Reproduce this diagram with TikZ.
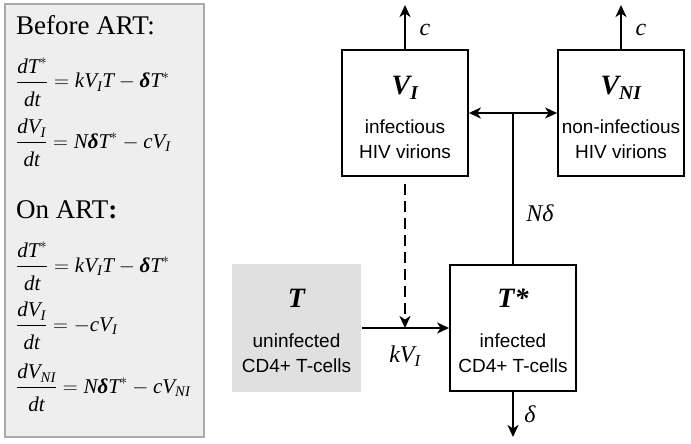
\documentclass[tikz,border=0pt]{standalone}
\usepackage{amsmath}
\usepackage{fontspec}
\setmainfont{Liberation Serif}
\newfontfamily\hv{Liberation Sans}
\usetikzlibrary{arrows.meta,calc}
\newcommand{\ti}[1]{\text{\itshape #1}}
\newcommand{\bd}{\text{\bfseries\itshape δ}}
\newcommand{\nst}{\rule[-6pt]{0pt}{6pt}}
\newcommand{\dst}{\rule{0pt}{21pt}}
\newcommand{\myfr}[2]{\dfrac{#1\nst}{#2\dst}}
\definecolor{panelfill}{HTML}{EEEEEE}
\definecolor{paneldraw}{HTML}{AAAAAA}
\definecolor{tfill}{HTML}{E0E0E0}
\begin{document}
\begin{tikzpicture}[x=1pt,y=-1pt,
 box/.style={draw,line width=1.8pt,minimum width=126pt,minimum height=126pt,inner sep=0},
 ttl/.style={anchor=base,inner sep=0,font=\fontsize{28}{30}\selectfont\bfseries\itshape},
 desc/.style={font=\hv\fontsize{19}{25}\selectfont,align=center,inner sep=0},
 lbl/.style={inner sep=0,font=\fontsize{24}{26}\selectfont\itshape},
 tip/.style={-{Stealth[length=12pt,width=11pt,inset=3.5pt]}},
 ln/.style={line width=2pt},
 arr/.style={ln,tip},
 eq/.style={anchor=base west,inner sep=0,font=\fontsize{21}{25}\selectfont},
 head/.style={anchor=base west,inner sep=0,font=\fontsize{27}{30}\selectfont}]
\useasboundingbox (0,0) rectangle (691,444);
% left panel
\node[draw=paneldraw,fill=panelfill,line width=1.5pt,minimum width=199pt,minimum height=433pt,inner sep=0] (panel) at (104.5,220.5) {};
\node[head] (h1) at (16,35) {Before ART:};
\node[eq] (e1) at (16,88) {$\myfr{\ti{dT}^{*}}{\ti{dt}}=\ti{kV}_{\ti{I}}\ti{T}-\bd\ti{T}^{*}$};
\node[eq] (e2) at (16,148) {$\myfr{\ti{dV}_{\ti{I}}}{\ti{dt}}=\ti{N}\bd\ti{T}^{*}-\ti{cV}_{\ti{I}}$};
\node[head] (h2) at (16,218) {On ART\textbf{:}};
\node[eq] (e3) at (16,272) {$\myfr{\ti{dT}^{*}}{\ti{dt}}=\ti{kV}_{\ti{I}}\ti{T}-\bd\ti{T}^{*}$};
\node[eq] (e4) at (16,331) {$\myfr{\ti{dV}_{\ti{I}}}{\ti{dt}}=-\ti{cV}_{\ti{I}}$};
\node[eq] (e5) at (16,393) {$\myfr{\ti{dV}_{\ti{NI}}}{\ti{dt}}=\ti{N}\bd\ti{T}^{*}-\ti{cV}_{\ti{NI}}$};
% boxes
\node[box] (VI) at (405,113) {};
\node[box] (VNI) at (621,113) {};
\node[box,draw=none,fill=tfill,minimum width=129pt,minimum height=128pt] (T) at (296.5,328) {};
\node[box] (Ts) at (513,328) {};
\node[ttl] (VIt) at ($(VI)+(0,-18)$) {V\textsubscript{I}};
\node[ttl] (VNIt) at ($(VNI)+(0,-18)$) {V\textsubscript{NI}};
\node[ttl] (Tt) at ($(T)+(0,-21)$) {T};
\node[ttl] (Tst) at ($(Ts)+(0,-21)$) {T*};
\node[desc] (VId) at ($(VI)+(0,26.5)$) {infectious\\HIV virions};
\node[desc] (VNId) at ($(VNI)+(0,26.5)$) {non-infectious\\HIV virions};
\node[desc] (Td) at ($(T)+(0,25.5)$) {uninfected\\CD4+ T-cells};
\node[desc] (Tsd) at ($(Ts)+(0,25.5)$) {infected\\CD4+ T-cells};
% coordinates
\coordinate (cI) at (405,5);
\coordinate (cNI) at (621,5);
\coordinate (J) at (513,113);
\coordinate (D) at (405,328);
\coordinate (dl) at (513,437);
% connectors
\draw[arr] (VI.north) -- (cI);
\draw[arr] (VNI.north) -- (cNI);
\draw[ln] (Ts.north) -- (J);
\draw[ln,{Stealth[length=12pt,width=11pt,inset=3.5pt]}-{Stealth[length=12pt,width=11pt,inset=3.5pt]}] (VI.east) -- (VNI.west);
\draw[arr] (T.east) -- (Ts.west);
\draw[arr,dash pattern=on 11pt off 6pt,shorten <=7pt] (VI.south) -- (D);
\draw[arr] (Ts.south) -- (dl);
% labels
\node[lbl] (lc1) at (425,30) {c};
\node[lbl] (lc2) at (641,30) {c};
\node[lbl] (lN) at (540,213) {Nδ};
\node[lbl] (lk) at (405,356) {kV\textsubscript{I}};
\node[lbl] (ld) at (530,414) {δ};
\end{tikzpicture}
\end{document}
